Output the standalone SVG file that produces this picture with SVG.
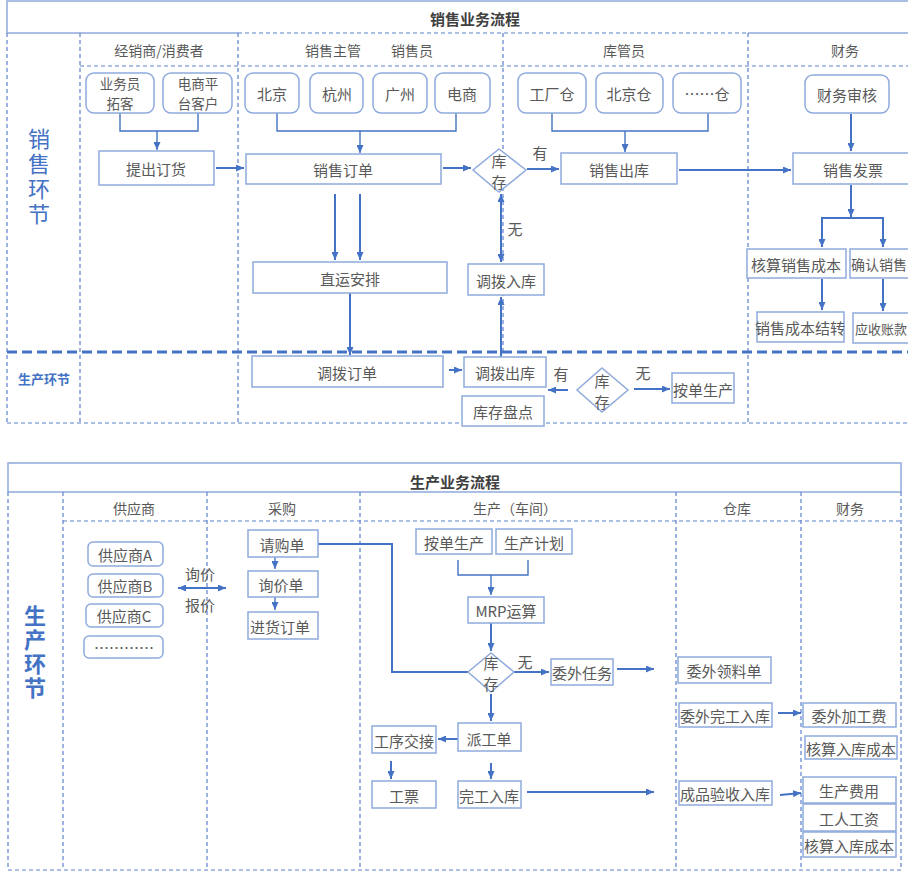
<svg xmlns="http://www.w3.org/2000/svg" width="908" height="878" viewBox="0 0 908 878">
<defs>
<style>
.box{fill:#fff;stroke:#8FAADC;stroke-width:1.5}
.t{font-family:"Noto Sans CJK SC","Noto Sans",sans-serif;font-size:15px;fill:#595959;text-anchor:middle;dominant-baseline:central}
.h{font-size:14px}
.ttl{font-weight:700;fill:#404040}
.rl{fill:#4472C4}
.vt{writing-mode:vertical-rl;text-anchor:middle}
.ln{fill:none;stroke:#4472C4;stroke-width:2}
.br{fill:none;stroke:#4472C4;stroke-width:1.4}
.solid{fill:none;stroke:#8FAADC;stroke-width:1.5}
.dash{fill:none;stroke:#5B80CC;stroke-width:1.2;stroke-dasharray:4 3}
.thick{fill:none;stroke:#4472C4;stroke-width:3;stroke-dasharray:10 5}
</style>
<marker id="ah" viewBox="0 0 8 7" refX="8" refY="3.5" markerWidth="8" markerHeight="7" markerUnits="userSpaceOnUse" orient="auto-start-reverse">
<path d="M0,0 L8,3.5 L0,7 z" fill="#4472C4"/>
</marker>
</defs>
<rect width="908" height="878" fill="#fff"/>

<g id="frame-sales">
<path class="solid" d="M7,33 V1 H915 M7,33 H238 M748,33 H915"/>
<path class="dash" d="M238,33 H748"/>
<text class="t ttl" x="475" y="18">销售业务流程</text>
<path class="dash" d="M7,33 V423 M80,33 V423 M238,33 V423 M503,33 V352 M748,33 V423 M80,66 H908 M7,423 H908"/>
<path class="thick" d="M7,352 H908"/>
<text class="t h" x="159" y="50">经销商/消费者</text>
<text class="t h" x="333" y="50">销售主管</text>
<text class="t h" x="412" y="50">销售员</text>
<text class="t h" x="624" y="50">库管员</text>
<text class="t h" x="845" y="50">财务</text>
<text class="t rl vt" x="39" y="178" style="font-size:22px;letter-spacing:3px;dominant-baseline:auto">销售环节</text>
<text class="t rl" x="44" y="378" style="font-size:13px;font-weight:700">生产环节</text>
</g>

<g id="frame-production">
<rect class="solid" x="8" y="463" width="893" height="29"/>
<text class="t ttl" x="455" y="481">生产业务流程</text>
<path class="dash" d="M8,492 V870 M63,492 V870 M207,492 V870 M360,492 V870 M676,492 V870 M801,492 V870 M901,492 V870 M63,521 H901 M8,870 H901"/>
<text class="t h" x="134" y="508">供应商</text>
<text class="t h" x="282" y="508">采购</text>
<text class="t h" x="515" y="508">生产（车间）</text>
<text class="t h" x="737" y="508">仓库</text>
<text class="t h" x="850" y="508">财务</text>
<text class="t rl vt" x="35" y="653" style="font-size:22px;font-weight:700;letter-spacing:2px;dominant-baseline:auto">生产环节</text>
</g>

<g id="connectors">
<path class="br" d="M120,113 V131 H198 V113"/>
<path class="br" d="M157,131 V150" marker-end="url(#ah)"/>
<path class="br" d="M277,113 V131 H456 V113"/>
<path class="br" d="M360,131 V153" marker-end="url(#ah)"/>
<path class="br" d="M552,113 V131 H708 V113"/>
<path class="br" d="M625,131 V152" marker-end="url(#ah)"/>
<path class="ln" d="M216,168 H244" marker-end="url(#ah)"/>
<path class="ln" d="M443,168 H471" marker-end="url(#ah)"/>
<path class="ln" d="M527,169 H559" marker-end="url(#ah)"/>
<path class="ln" d="M679,170 H791" marker-end="url(#ah)"/>
<path class="ln" d="M851,114 V151" marker-end="url(#ah)"/>
<path class="ln" d="M851,185 V217" marker-end="url(#ah)"/>
<path class="ln" d="M851,218 H822 V247" marker-end="url(#ah)"/>
<path class="ln" d="M851,218 H883 V247" marker-end="url(#ah)"/>
<path class="ln" d="M822,279 V310" marker-end="url(#ah)"/>
<path class="ln" d="M883,279 V311" marker-end="url(#ah)"/>
<path class="ln" d="M335,194 V260" marker-end="url(#ah)"/>
<path class="ln" d="M360,194 V260" marker-end="url(#ah)"/>
<path class="ln" d="M350,293 V355" marker-end="url(#ah)"/>
<path class="ln" d="M449,370 H462" marker-end="url(#ah)"/>
<path class="ln" d="M501,357 V297" marker-end="url(#ah)"/>
<path class="ln" d="M501,194 V262" marker-start="url(#ah)" marker-end="url(#ah)"/>
<path class="ln" d="M568,390 H548" marker-end="url(#ah)"/>
<path class="ln" d="M634,389 H670" marker-end="url(#ah)"/>
<text class="t" x="540" y="152">有</text>
<text class="t" x="515" y="228">无</text>
<text class="t" x="561" y="373">有</text>
<text class="t" x="643" y="372">无</text>

<path class="ln" d="M318,544 H392 V672 H468"/>
<path class="br" d="M275,557 V569" marker-end="url(#ah)"/>
<path class="br" d="M275,597 V610" marker-end="url(#ah)"/>
<path class="ln" d="M178,588 H226" marker-start="url(#ah)" marker-end="url(#ah)"/>
<path class="br" d="M458,560 V575 H528 V560"/>
<path class="br" d="M491,575 V595" marker-end="url(#ah)"/>
<path class="ln" d="M491,623 V651" marker-end="url(#ah)"/>
<path class="ln" d="M514,672 H549" marker-end="url(#ah)"/>
<path class="ln" d="M617,669 H654" marker-end="url(#ah)"/>
<path class="ln" d="M491,694 V721" marker-end="url(#ah)"/>
<path class="ln" d="M458,739 H438" marker-end="url(#ah)"/>
<path class="ln" d="M391,761 V779" marker-end="url(#ah)"/>
<path class="ln" d="M491,763 V779" marker-end="url(#ah)"/>
<path class="ln" d="M527,792 H654" marker-end="url(#ah)"/>
<path class="ln" d="M778,713 H801" marker-end="url(#ah)"/>
<path class="ln" d="M780,795 L801,793" marker-end="url(#ah)"/>
<text class="t" x="200" y="573">询价</text>
<text class="t" x="200" y="604">报价</text>
<text class="t" x="525" y="661">无</text>
</g>

<g id="n-yewuyuan"><rect class="box" x="86" y="73" width="68" height="40" rx="8"/><text class="t" x="120" y="83" style="font-size:13.5px">业务员<tspan x="120" dy="20">拓客</tspan></text></g>
<g id="n-dianshangpingtai"><rect class="box" x="163" y="73" width="69" height="40" rx="8"/><text class="t" x="198" y="83" style="font-size:13.5px">电商平<tspan x="198" dy="20">台客户</tspan></text></g>
<g id="n-beijing"><rect class="box" x="245" y="73" width="54" height="40" rx="8"/><text class="t" x="272" y="93">北京</text></g>
<g id="n-hangzhou"><rect class="box" x="310" y="73" width="53" height="40" rx="8"/><text class="t" x="337" y="93">杭州</text></g>
<g id="n-guangzhou"><rect class="box" x="373" y="73" width="54" height="40" rx="8"/><text class="t" x="400" y="93">广州</text></g>
<g id="n-dianshang"><rect class="box" x="435" y="73" width="55" height="40" rx="8"/><text class="t" x="462" y="93">电商</text></g>
<g id="n-gongchangcang"><rect class="box" x="518" y="73" width="68" height="40" rx="8"/><text class="t" x="552" y="93">工厂仓</text></g>
<g id="n-beijingcang"><rect class="box" x="596" y="73" width="67" height="40" rx="8"/><text class="t" x="629" y="93">北京仓</text></g>
<g id="n-dotscang"><rect class="box" x="673" y="73" width="68" height="40" rx="8"/><text class="t" x="707" y="93">……仓</text></g>
<g id="n-caiwushenhe"><rect class="box" x="805" y="75" width="84" height="38" rx="8"/><text class="t" x="847" y="94">财务审核</text></g>

<g id="n-tichudinghuo"><rect class="box" x="99" y="151" width="115" height="34"/><text class="t" x="156" y="168">提出订货</text></g>
<g id="n-xiaoshoudingdan"><rect class="box" x="246" y="154" width="195" height="30"/><text class="t" x="343" y="169">销售订单</text></g>
<g id="n-kucun1"><path class="box" d="M499,149 L526,170 L499,192 L473,170 z"/><text class="t" x="499" y="160">库<tspan x="499" dy="21">存</tspan></text></g>
<g id="n-xiaoshouchuku"><rect class="box" x="561" y="153" width="116" height="31"/><text class="t" x="619" y="169">销售出库</text></g>
<g id="n-xiaoshoufapiao"><rect class="box" x="793" y="153" width="120" height="31"/><text class="t" x="853" y="169">销售发票</text></g>
<g id="n-hesuanxiaoshouchengben"><rect class="box" x="747" y="249" width="99" height="29"/><text class="t" x="796" y="264">核算销售成本</text></g>
<g id="n-querenxiaoshou"><rect class="box" x="850" y="249" width="70" height="29"/><text class="t" x="851" y="264" style="text-anchor:start;font-size:14px">确认销售</text></g>
<g id="n-xiaoshouchengbenjiezhuan"><rect class="box" x="757" y="312" width="87" height="30"/><text class="t" x="800" y="327">销售成本结转</text></g>
<g id="n-yingshouzhangkuan"><rect class="box" x="853" y="313" width="70" height="30"/><text class="t" x="855" y="328" style="text-anchor:start;font-size:13px">应收账款</text></g>
<g id="n-zhiyunanpai"><rect class="box" x="253" y="262" width="194" height="31"/><text class="t" x="350" y="278">直运安排</text></g>
<g id="n-diaobodingdan"><rect class="box" x="252" y="356" width="191" height="31"/><text class="t" x="347" y="372">调拨订单</text></g>
<g id="n-diaoboruku"><rect class="box" x="468" y="264" width="76" height="31"/><text class="t" x="506" y="280">调拨入库</text></g>
<g id="n-diaobochuku"><rect class="box" x="464" y="357" width="82" height="30"/><text class="t" x="505" y="372">调拨出库</text></g>
<g id="n-kucunpandian"><rect class="box" x="462" y="396" width="82" height="30"/><text class="t" x="503" y="411">库存盘点</text></g>
<g id="n-kucun2"><path class="box" d="M602,368 L628,390 L602,412 L577,390 z"/><text class="t" x="602" y="380">库<tspan x="602" dy="21">存</tspan></text></g>
<g id="n-andanshengchan1"><rect class="box" x="672" y="373" width="62" height="30"/><text class="t" x="703" y="389">按单生产</text></g>

<g id="n-gysA"><rect class="box" x="88" y="542" width="75" height="24" rx="5"/><text class="t" x="125" y="554">供应商A</text></g>
<g id="n-gysB"><rect class="box" x="88" y="574" width="75" height="23" rx="5"/><text class="t" x="125" y="585">供应商B</text></g>
<g id="n-gysC"><rect class="box" x="86" y="604" width="77" height="23" rx="5"/><text class="t" x="124" y="615">供应商C</text></g>
<g id="n-gysdots"><rect class="box" x="84" y="636" width="79" height="22" rx="5"/><text class="t" x="124" y="647">…………</text></g>
<g id="n-qinggoudan"><rect class="box" x="248" y="530" width="70" height="27"/><text class="t" x="282" y="544">请购单</text></g>
<g id="n-xunjiadan"><rect class="box" x="248" y="571" width="70" height="26"/><text class="t" x="281" y="584">询价单</text></g>
<g id="n-jinhuodingdan"><rect class="box" x="248" y="612" width="70" height="27"/><text class="t" x="280" y="626">进货订单</text></g>
<g id="n-andanshengchan2"><rect class="box" x="416" y="529" width="76" height="25"/><text class="t" x="454" y="542">按单生产</text></g>
<g id="n-shengchanjihua"><rect class="box" x="496" y="529" width="76" height="25"/><text class="t" x="534" y="542">生产计划</text></g>
<g id="n-mrp"><rect class="box" x="468" y="597" width="76" height="26"/><text class="t" x="506" y="610">MRP运算</text></g>
<g id="n-kucun3"><path class="box" d="M491,653 L514,672 L491,692 L468,672 z"/><text class="t" x="491" y="662">库<tspan x="491" dy="21">存</tspan></text></g>
<g id="n-weiwairenwu"><rect class="box" x="551" y="659" width="62" height="26"/><text class="t" x="582" y="672">委外任务</text></g>
<g id="n-weiwailingliaodan"><rect class="box" x="678" y="657" width="93" height="26"/><text class="t" x="724" y="670">委外领料单</text></g>
<g id="n-paigongdan"><rect class="box" x="458" y="723" width="63" height="28"/><text class="t" x="489" y="738">派工单</text></g>
<g id="n-gongxujiaojie"><rect class="box" x="372" y="726" width="64" height="27"/><text class="t" x="404" y="740">工序交接</text></g>
<g id="n-gongpiao"><rect class="box" x="372" y="781" width="64" height="27"/><text class="t" x="404" y="795">工票</text></g>
<g id="n-wangongruku"><rect class="box" x="458" y="781" width="63" height="27"/><text class="t" x="489" y="795">完工入库</text></g>
<g id="n-weiwaiwangongruku"><rect class="box" x="679" y="703" width="93" height="24"/><text class="t" x="725" y="715">委外完工入库</text></g>
<g id="n-chengpinyanshouruku"><rect class="box" x="679" y="781" width="93" height="24"/><text class="t" x="725" y="793">成品验收入库</text></g>
<g id="n-weiwaijiagongfei"><rect class="box" x="803" y="703" width="93" height="24"/><text class="t" x="849" y="715">委外加工费</text></g>
<g id="n-hesuanrukuchengben1"><rect class="box" x="805" y="736" width="92" height="23"/><text class="t" x="851" y="748">核算入库成本</text></g>
<g id="n-shengchanfeiyong"><rect class="box" x="803" y="777" width="93" height="26"/><text class="t" x="849" y="790">生产费用</text></g>
<g id="n-gongrengongzi"><rect class="box" x="803" y="804" width="93" height="27"/><text class="t" x="849" y="818">工人工资</text></g>
<g id="n-hesuanrukuchengben2"><rect class="box" x="803" y="832" width="93" height="25"/><text class="t" x="849" y="845">核算入库成本</text></g>
</svg>
